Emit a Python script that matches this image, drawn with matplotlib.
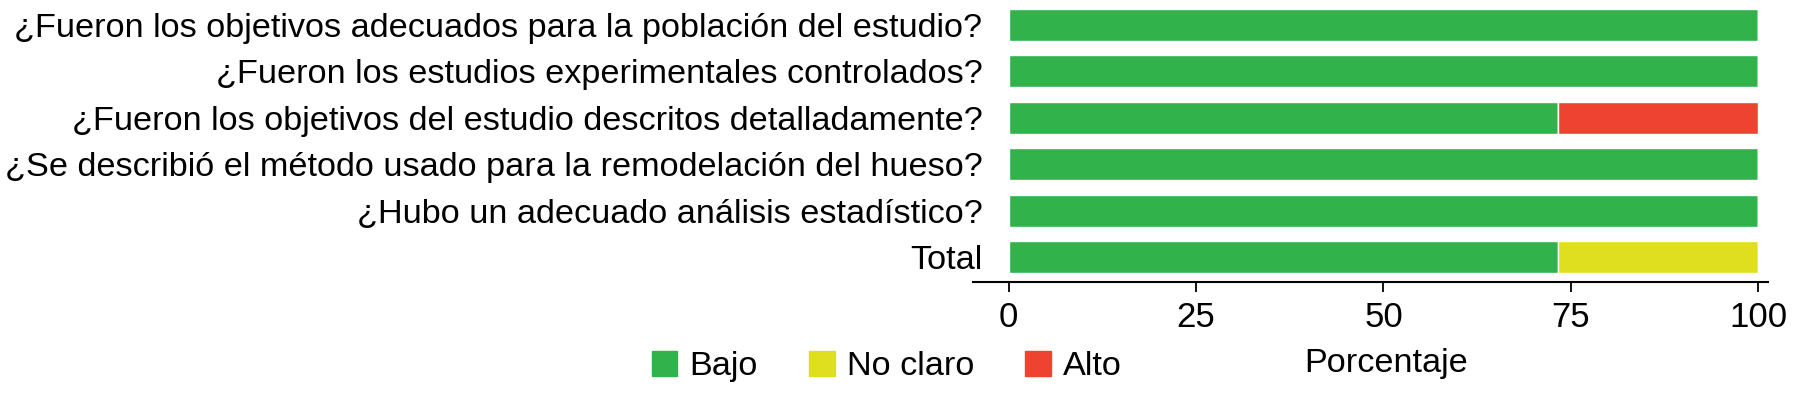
import matplotlib
matplotlib.use("Agg")
import matplotlib.pyplot as plt
from matplotlib.patches import Patch
import numpy as np

preguntas = [
    "¿Fueron los objetivos adecuados para la población del estudio?",
    "¿Fueron los estudios experimentales controlados?",
    "¿Fueron los objetivos del estudio descritos detalladamente?",
    "¿Se describió el método usado para la remodelación del hueso?",
    "¿Hubo un adecuado análisis estadístico?",
    "Total",
]
bajo = [100, 100, 73.3, 100, 100, 73.3]
no_claro = [0, 0, 0, 0, 0, 26.7]
alto = [0, 0, 26.7, 0, 0, 0]
ticks = [0, 25, 50, 75, 100]

verde = '#31b24a'
amarillo = '#dfdf1f'
rojo = '#ee4331'

plt.rcParams['font.family'] = ['Liberation Sans', 'DejaVu Sans']

fig = plt.figure(figsize=(18, 3.94), dpi=100)
ax = fig.add_axes([0.5404, 0.2835, 0.4418, 0.7125])

y = np.arange(len(preguntas))
b = np.array(bajo)
n = np.array(no_claro)
a = np.array(alto)
ax.barh(y, b, height=0.69, color=verde, edgecolor='white', linewidth=1)
ax.barh(y, n, left=b, height=0.69, color=amarillo, edgecolor='white', linewidth=1)
ax.barh(y, a, left=b + n, height=0.69, color=rojo, edgecolor='white', linewidth=1)

ax.set_xlim(-4.8, 101.3)
ax.set_ylim(5.538, -0.5)
ax.set_yticks(y)
ax.set_yticklabels(preguntas, fontsize=24.7)
ax.set_xticks(ticks)
ax.set_xticklabels([str(t) for t in ticks], fontsize=25)
ax.tick_params(axis='y', length=0, pad=-7)
ax.tick_params(axis='x', length=7.2, width=1.3, pad=6.5)
for s in ['top', 'right', 'left']:
    ax.spines[s].set_visible(False)
ax.spines['bottom'].set_linewidth(1.5)

ax.set_xlabel('Porcentaje', fontsize=24.7, va='baseline')
ax.xaxis.set_label_coords(0.5197, -0.3196)

handles = [Patch(color=verde, label='Bajo'),
           Patch(color=amarillo, label='No claro'),
           Patch(color=rojo, label='Alto')]
fig.legend(handles=handles, ncol=3, frameon=False, fontsize=24.7,
           loc='center left', bbox_to_anchor=(0.3622, 0.0698), borderpad=0,
           borderaxespad=0, handlelength=0.74, handleheight=0.74,
           handletextpad=0.35, columnspacing=1.5)

fig.savefig('out.png', dpi=100)
